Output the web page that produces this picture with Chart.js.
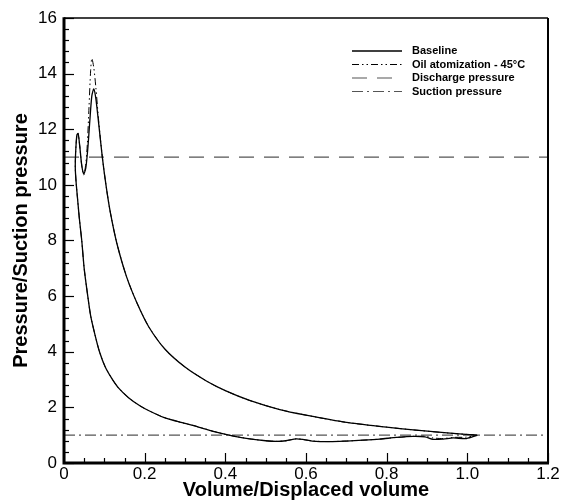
<!DOCTYPE html>
<html>
<head>
<meta charset="utf-8">
<script src="https://cdn.jsdelivr.net/npm/chart.js@4.4.1/dist/chart.umd.min.js"></script>
<style>
html,body{margin:0;padding:0;background:#fff;}
</style>
</head>
<body>
<canvas id="pv" width="562" height="504"></canvas>
<script>
// P-V loop (volume ratio / pressure ratio)
var baseV = [1.025,0.95,0.866,0.80,0.70,0.60,0.535,0.46,0.40,0.353,0.30,0.25,0.21,0.181,0.155,0.131,0.115,0.105,0.095,0.086,0.079,0.074,0.069,0.064,0.059,0.054,0.049,0.044,0.039,0.035,0.032,0.029,0.028,0.030,0.033,0.038,0.044,0.050,0.058,0.066,0.077,0.088,0.102,0.118,0.135,0.16,0.189,0.212,0.247,0.29,0.33,0.38,0.42,0.46,0.50,0.527,0.55,0.576,0.595,0.615,0.659,0.70,0.741,0.783,0.824,0.865,0.895,0.915,0.94,0.965,0.998,1.025];
var baseP = [1.00,1.08,1.19,1.29,1.46,1.72,1.92,2.25,2.60,2.95,3.45,4.10,4.90,5.75,6.70,7.90,9.00,9.90,11.0,12.2,13.1,13.45,13.2,12.3,11.3,10.6,10.4,10.7,11.4,11.85,11.8,11.2,10.6,10.1,9.6,8.8,8.0,7.0,6.1,5.3,4.6,4.0,3.46,3.05,2.70,2.35,2.05,1.87,1.64,1.46,1.31,1.10,0.97,0.87,0.80,0.78,0.80,0.87,0.84,0.79,0.77,0.79,0.82,0.86,0.92,0.96,0.94,0.85,0.86,0.90,0.88,1.00];

var oilV = [1.025,0.95,0.866,0.80,0.70,0.60,0.535,0.46,0.40,0.353,0.30,0.25,0.21,0.181,0.155,0.131,0.115,0.105,0.095,0.086,0.079,0.074,0.069,0.066,0.062,0.058,0.054,0.049,0.044,0.039,0.035,0.032,0.029,0.028,0.030,0.033,0.038,0.044,0.050,0.058,0.066,0.077,0.088,0.102,0.118,0.135,0.16,0.189,0.212,0.247,0.29,0.33,0.38,0.42,0.46,0.50,0.527,0.55,0.576,0.595,0.615,0.659,0.70,0.741,0.783,0.824,0.865,0.895,0.915,0.94,0.965,0.998,1.025];
var oilP = [1.00,1.08,1.19,1.29,1.46,1.72,1.92,2.25,2.60,2.95,3.45,4.10,4.90,5.75,6.70,7.90,9.00,9.90,11.0,12.3,13.5,14.2,14.55,14.1,12.8,11.5,10.75,10.35,10.7,11.4,11.85,11.8,11.2,10.6,10.1,9.6,8.8,8.0,7.0,6.1,5.3,4.6,4.0,3.46,3.05,2.70,2.35,2.05,1.87,1.64,1.46,1.31,1.10,0.97,0.87,0.80,0.78,0.80,0.87,0.84,0.79,0.77,0.79,0.82,0.86,0.92,0.96,0.96,0.90,0.88,0.92,0.93,1.00];

var dischargeV = [0, 1.2], dischargeP = [11, 11];
var suctionV = [0, 1.2], suctionP = [1, 1];

var seriesNames = ['Baseline', 'Oil atomization - 45\u00B0C', 'Discharge pressure', 'Suction pressure'];
var xTicks = [0, 0.2, 0.4, 0.6, 0.8, 1, 1.2];
var yTicks = [0, 2, 4, 6, 8, 10, 12, 14, 16];

function pts(xs, ys){ return xs.map((v,i)=>({x:v, y:ys[i]})); }

var fam = "'Liberation Sans', Arial, sans-serif";

// frame with inward ticks, like the original plot
var frameTicks = {
	id: 'frameTicks',
	afterDraw: function(chart){
		const {ctx, chartArea: a, scales: {x, y}} = chart;
		ctx.save();
		ctx.strokeStyle = '#000';
		ctx.lineWidth = 1.2;
		for (let v = 0; v <= 1.2001; v += 0.05) {
			let px = Math.round(x.getPixelForValue(v)) + 0.5;
			let major = Math.abs(v/0.2 - Math.round(v/0.2)) < 1e-6;
			ctx.beginPath(); ctx.moveTo(px, a.bottom); ctx.lineTo(px, a.bottom - (major ? 10 : 5)); ctx.stroke();
		}
		for (let v = 0; v <= 16.001; v += 0.4) {
			let py = Math.round(y.getPixelForValue(v)) + 0.5;
			let major = Math.abs(v/2 - Math.round(v/2)) < 1e-6;
			ctx.beginPath(); ctx.moveTo(a.left, py); ctx.lineTo(a.left + (major ? 10 : 5), py); ctx.stroke();
		}
		ctx.lineWidth = 1.5;
		ctx.beginPath(); ctx.moveTo(a.left, a.top); ctx.lineTo(a.right, a.top); ctx.stroke();
		ctx.lineWidth = 2;
		ctx.beginPath(); ctx.moveTo(a.right, a.top); ctx.lineTo(a.right, a.bottom + 1); ctx.stroke();
		ctx.lineWidth = 3;
		ctx.beginPath(); ctx.moveTo(a.left, a.top - 0.7); ctx.lineTo(a.left, a.bottom); ctx.lineTo(a.right + 1, a.bottom); ctx.stroke();
		ctx.restore();
	}
};

// legend inside the plot, top right
var innerLegend = {
	id: 'innerLegend',
	afterDraw: function(chart){
		const {ctx, chartArea: a} = chart;
		ctx.save();
		ctx.font = 'bold 11px ' + fam;
		ctx.textBaseline = 'middle';
		ctx.fillStyle = '#000';
		chart.data.datasets.forEach((ds, i) => {
			let yy = a.top + 33 + i * 13.5;
			ctx.strokeStyle = ds.borderColor;
			ctx.lineWidth = ds.borderWidth;
			ctx.setLineDash(ds.borderDash || []);
			ctx.beginPath(); ctx.moveTo(a.right - 196, yy); ctx.lineTo(a.right - 146, yy); ctx.stroke();
			ctx.setLineDash([]);
			ctx.fillText(ds.label, a.right - 136, yy);
		});
		ctx.restore();
	}
};

new Chart(document.getElementById('pv').getContext('2d'), {
	type: 'scatter',
	data: {
		datasets: [
			{label: seriesNames[0], data: pts(baseV, baseP), showLine: true, borderColor: '#000', borderWidth: 1.3, tension: 0.25},
			{label: seriesNames[1], data: pts(oilV, oilP), showLine: true, borderColor: '#000', borderWidth: 1, borderDash: [7,3,1.5,3,1.5,3], tension: 0.25},
			{label: seriesNames[2], data: pts(dischargeV, dischargeP), showLine: true, borderColor: '#555', borderWidth: 1.2, borderDash: [15,10]},
			{label: seriesNames[3], data: pts(suctionV, suctionP), showLine: true, borderColor: '#555', borderWidth: 1.2, borderDash: [11,4,2,4]}
		]
	},
	options: {
		responsive: false,
		animation: false,
		layout: {padding: {top: 18, right: 14, left: 0, bottom: 0}},
		elements: {point: {radius: 0, hoverRadius: 0}},
		plugins: {legend: {display: false}, tooltip: {enabled: false}},
		scales: {
			x: {
				type: 'linear', min: 0, max: 1.2,
				afterBuildTicks: s => { s.ticks = xTicks.map(v => ({value: v})); },
				grid: {display: false, drawTicks: false}, border: {display: false},
				ticks: {color: '#000', font: {family: fam, size: 17}, padding: 1, maxRotation: 0},
				title: {display: true, text: 'Volume/Displaced volume', color: '#000', font: {family: fam, size: 20, weight: 'bold'}, padding: {top: 0, bottom: 2}},
				afterFit: s => { s.height = 41; }
			},
			y: {
				type: 'linear', min: 0, max: 16,
				afterBuildTicks: s => { s.ticks = yTicks.map(v => ({value: v})); },
				grid: {display: false, drawTicks: false}, border: {display: false},
				ticks: {color: '#000', font: {family: fam, size: 17}, padding: 7},
				title: {display: true, text: 'Pressure/Suction pressure', color: '#000', font: {family: fam, size: 20, weight: 'bold'}, padding: {top: 9, bottom: 0}},
				afterFit: s => { s.width = 64; }
			}
		}
	},
	plugins: [frameTicks, innerLegend]
});
</script>
</body>
</html>
